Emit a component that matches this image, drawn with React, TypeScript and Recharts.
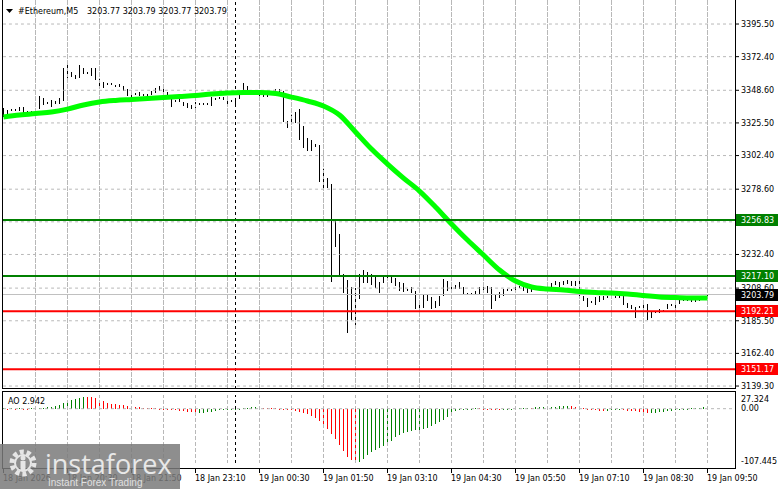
import React from 'react';
import { ComposedChart, Bar, Line, XAxis, YAxis, ReferenceLine } from 'recharts';

// ---------- DATA ----------
// M5 candles, 19:10 (18 Jan) .. 09:50 (19 Jan): [open, high, low, close]
const candles: [number, number, number, number][] = [
  [3334.6, 3336.0, 3329.7, 3331.1], [3332.5, 3334.6, 3331.8, 3333.9], [3334.6, 3335.3, 3333.9, 3334.3], [3334.3, 3335.3, 3333.9, 3334.6],
  [3335.3, 3336.8, 3333.9, 3335.0], [3336.0, 3336.8, 3332.5, 3333.2], [3333.2, 3333.9, 3332.5, 3333.0], [3333.0, 3333.9, 3332.5, 3333.2],
  [3333.2, 3333.9, 3331.8, 3332.5], [3336.8, 3344.5, 3335.3, 3343.8], [3342.4, 3343.1, 3338.2, 3338.9], [3339.6, 3340.3, 3338.9, 3339.3],
  [3340.3, 3341.7, 3336.8, 3338.2], [3340.3, 3341.0, 3338.9, 3339.6], [3339.6, 3343.1, 3338.9, 3342.4], [3341.7, 3364.4, 3341.0, 3362.9],
  [3360.8, 3366.5, 3357.3, 3358.7], [3360.8, 3361.5, 3358.0, 3360.1], [3358.0, 3359.4, 3356.6, 3358.3], [3358.0, 3366.5, 3357.3, 3365.8],
  [3363.7, 3364.4, 3360.1, 3360.8], [3360.8, 3361.5, 3360.1, 3360.5], [3359.4, 3364.4, 3358.7, 3363.7], [3363.7, 3364.4, 3355.9, 3356.6],
  [3355.9, 3356.6, 3351.6, 3352.3], [3353.7, 3354.4, 3350.2, 3350.9], [3353.1, 3353.7, 3352.3, 3352.8], [3352.8, 3353.7, 3352.3, 3353.1],
  [3351.6, 3352.3, 3350.9, 3351.3], [3351.9, 3353.0, 3351.0, 3352.3], [3350.9, 3351.6, 3348.1, 3348.8], [3348.8, 3349.5, 3344.5, 3345.3],
  [3346.7, 3347.4, 3343.8, 3344.5], [3346.0, 3346.7, 3345.3, 3345.7], [3346.7, 3347.4, 3344.5, 3345.3], [3345.3, 3346.0, 3344.5, 3345.0],
  [3345.0, 3346.0, 3344.5, 3345.3], [3346.0, 3348.1, 3345.3, 3347.4], [3347.4, 3350.2, 3346.7, 3349.5], [3348.8, 3351.6, 3348.1, 3350.9],
  [3348.1, 3350.9, 3347.4, 3350.2], [3346.7, 3347.4, 3343.8, 3344.5], [3341.7, 3342.4, 3336.8, 3341.4], [3341.0, 3341.7, 3340.3, 3340.7],
  [3341.4, 3342.4, 3340.3, 3341.7], [3339.6, 3340.3, 3337.5, 3338.2], [3338.9, 3339.6, 3336.0, 3336.8], [3337.5, 3338.2, 3335.3, 3336.0],
  [3336.8, 3340.3, 3336.0, 3339.6], [3338.9, 3339.6, 3338.2, 3338.6], [3338.6, 3339.6, 3338.2, 3338.9], [3338.9, 3339.6, 3338.2, 3339.2],
  [3338.2, 3343.8, 3337.5, 3343.1], [3342.4, 3343.1, 3341.7, 3342.7], [3342.7, 3343.8, 3342.4, 3343.1], [3343.1, 3343.8, 3341.7, 3342.4],
  [3342.4, 3343.1, 3336.8, 3338.9], [3341.0, 3341.7, 3340.3, 3340.7], [3338.2, 3343.1, 3337.5, 3342.4], [3343.1, 3346.0, 3342.4, 3345.3],
  [3348.8, 3353.7, 3348.1, 3352.3], [3350.9, 3351.6, 3347.4, 3348.1], [3347.4, 3348.1, 3346.7, 3347.1], [3346.7, 3347.4, 3346.0, 3346.4],
  [3346.7, 3347.4, 3344.5, 3345.3], [3346.7, 3347.4, 3343.8, 3344.5], [3346.4, 3347.1, 3343.8, 3344.5], [3347.1, 3348.1, 3346.7, 3347.4],
  [3347.4, 3349.5, 3346.7, 3348.8], [3348.8, 3349.5, 3346.7, 3347.4], [3347.4, 3348.1, 3326.1, 3329.0], [3326.1, 3326.8, 3321.9, 3324.0],
  [3327.6, 3331.1, 3324.7, 3327.3], [3326.1, 3333.2, 3325.4, 3332.5], [3334.6, 3335.3, 3313.4, 3322.6], [3322.6, 3323.3, 3307.8, 3308.5],
  [3309.2, 3314.8, 3305.6, 3308.9], [3308.9, 3313.4, 3305.6, 3309.2], [3309.6, 3310.6, 3308.5, 3309.9], [3309.2, 3310.0, 3283.7, 3292.2],
  [3292.2, 3292.9, 3278.0, 3281.6], [3283.0, 3286.5, 3279.4, 3282.6], [3281.6, 3282.3, 3212.9, 3255.4], [3256.8, 3257.5, 3237.7, 3239.1],
  [3246.2, 3247.0, 3217.2, 3217.9], [3217.9, 3218.6, 3205.1, 3214.3], [3213.6, 3214.3, 3176.8, 3201.6], [3201.6, 3209.4, 3186.0, 3203.0],
  [3202.3, 3208.7, 3182.5, 3201.6], [3201.6, 3218.6, 3200.9, 3217.9], [3215.7, 3221.4, 3212.2, 3219.3], [3218.6, 3220.0, 3212.2, 3218.3],
  [3217.9, 3218.6, 3210.8, 3216.5], [3215.7, 3216.5, 3208.7, 3209.4], [3209.4, 3212.9, 3205.1, 3212.2], [3216.5, 3217.2, 3212.2, 3212.9],
  [3214.3, 3220.0, 3213.6, 3217.9], [3215.7, 3216.5, 3212.2, 3212.9], [3215.0, 3215.7, 3210.1, 3210.8], [3212.2, 3212.9, 3206.5, 3207.3],
  [3211.5, 3212.2, 3205.8, 3206.5], [3207.3, 3208.0, 3206.5, 3207.0], [3208.7, 3209.4, 3205.1, 3205.8], [3205.8, 3206.5, 3193.8, 3194.5],
  [3194.5, 3197.3, 3193.8, 3196.6], [3195.2, 3204.4, 3194.5, 3203.7], [3203.7, 3204.4, 3199.5, 3200.2], [3201.6, 3202.3, 3193.8, 3194.5],
  [3195.2, 3199.5, 3194.5, 3198.8], [3196.6, 3203.0, 3195.9, 3202.3], [3203.7, 3215.0, 3203.0, 3214.3], [3212.9, 3213.6, 3206.5, 3207.3],
  [3208.7, 3209.4, 3208.0, 3208.4], [3209.4, 3210.8, 3208.0, 3209.1], [3212.2, 3212.9, 3208.0, 3208.7], [3208.7, 3209.4, 3204.4, 3205.1],
  [3204.4, 3205.1, 3203.7, 3204.1], [3204.1, 3205.1, 3203.7, 3204.4], [3205.8, 3206.5, 3203.7, 3204.4], [3205.1, 3209.4, 3204.4, 3208.7],
  [3205.8, 3209.4, 3205.1, 3208.7], [3205.8, 3210.1, 3205.1, 3208.7], [3208.7, 3209.4, 3193.8, 3194.5], [3200.2, 3203.7, 3199.5, 3203.0],
  [3202.3, 3205.8, 3201.6, 3205.1], [3203.7, 3208.0, 3203.0, 3207.3], [3207.3, 3208.0, 3206.5, 3207.0], [3207.0, 3208.0, 3206.5, 3207.3],
  [3207.3, 3210.1, 3206.5, 3209.4], [3209.4, 3210.1, 3208.7, 3209.1], [3209.4, 3210.1, 3206.5, 3207.3], [3208.0, 3208.7, 3205.1, 3205.8],
  [3207.3, 3208.7, 3205.8, 3207.0], [3207.7, 3208.7, 3207.3, 3208.0], [3208.0, 3208.7, 3207.3, 3207.7], [3208.4, 3209.4, 3208.0, 3208.7],
  [3208.7, 3211.5, 3208.0, 3210.8], [3210.8, 3212.2, 3209.4, 3210.5], [3212.2, 3213.6, 3210.8, 3212.0], [3212.2, 3212.9, 3209.4, 3210.1],
  [3212.9, 3213.6, 3210.8, 3211.5], [3212.9, 3214.3, 3211.5, 3212.6], [3212.9, 3213.6, 3210.1, 3210.8], [3212.9, 3213.6, 3210.1, 3210.8],
  [3214.3, 3215.0, 3200.9, 3201.6], [3202.3, 3203.0, 3199.5, 3200.2], [3199.5, 3201.6, 3195.2, 3199.2], [3198.8, 3199.5, 3198.0, 3198.5],
  [3201.6, 3202.3, 3196.6, 3197.3], [3199.5, 3203.0, 3198.8, 3202.3], [3200.9, 3203.0, 3200.2, 3202.3], [3202.3, 3203.0, 3201.6, 3202.0],
  [3202.0, 3203.0, 3201.6, 3202.3], [3202.3, 3203.0, 3201.6, 3202.0], [3202.0, 3203.0, 3201.6, 3202.3], [3202.3, 3203.0, 3196.6, 3197.3],
  [3197.3, 3198.0, 3194.5, 3195.2], [3195.9, 3196.6, 3193.8, 3194.5], [3194.5, 3195.2, 3187.4, 3194.2], [3195.2, 3195.9, 3194.5, 3194.9],
  [3196.6, 3197.3, 3192.4, 3193.1], [3196.6, 3197.3, 3186.0, 3187.4], [3188.1, 3192.4, 3187.4, 3191.7], [3191.7, 3192.4, 3191.0, 3191.4],
  [3192.4, 3193.8, 3191.0, 3192.1], [3192.1, 3193.1, 3191.7, 3192.4], [3194.5, 3197.3, 3193.8, 3196.6], [3196.6, 3197.3, 3195.9, 3196.3],
  [3195.2, 3198.8, 3194.5, 3198.0], [3198.0, 3200.9, 3197.3, 3200.2], [3200.2, 3200.9, 3199.5, 3199.9], [3199.9, 3200.9, 3199.5, 3200.2],
  [3199.5, 3200.2, 3198.8, 3199.2], [3199.2, 3200.2, 3198.8, 3199.5], [3200.2, 3200.9, 3199.5, 3200.5], [3202.0, 3202.7, 3201.6, 3202.3],
  [3203.77, 3203.79, 3203.77, 3203.79],
];

// Moving average, one value every 4 bars (bar 0, 4, 8, ... 176)
const maValues: number[] = [
  3329.7, 3331.1, 3332.2, 3333.2, 3335.3, 3338.2, 3340.3, 3341.4, 3342.1, 3342.8,
  3343.5, 3344.2, 3344.9, 3346.0, 3346.7, 3347.0, 3347.0, 3346.3, 3343.8, 3341.0,
  3337.5, 3331.1, 3319.1, 3307.0, 3296.4, 3286.5, 3277.3, 3266.0, 3254.0, 3242.6,
  3232.0, 3221.4, 3213.6, 3209.4, 3208.0, 3207.3, 3206.2, 3205.5, 3205.1, 3204.4,
  3203.4, 3202.3, 3201.9, 3201.6, 3201.6,
];
const maStep = 4;

// Awesome Oscillator, one value per bar
const aoValues: number[] = [
  0.6, 0.3, 0.5, 0.2, 0.4, 0.3, 0.1, 0.4, 0.8, 1.3, 1.9, 2.4,
  3.3, 5.3, 7.9, 11.2, 14.5, 17.2, 19.1, 21.8,
  23.5, 23.2, 22.5, 20.5, 18.0, 15.0, 12.0, 10.0, 8.5, 7.5, 6.5, 5.5, 4.5, 3.5, 2.5,
  1.5, 1.0, 0.7, 0.4, 0.2, 0.1,
  -1.5, -2.2, -3.0, -3.8, -5.0, -6.2, -7.5, -9.0,
  -8.6, -7.9, -7.2, -6.0, -4.6, -3.3, -2.0, -1.0, -0.5,
  -0.3, 0.2, 1.0, 2.0, 2.6, 3.0, 2.6, 2.0, 1.5, 1.0, 0.6, 0.3,
  -0.5, -1.2, -2.5, -4.0, -6.0, -8.5, -11, -14, -18, -24, -31, -40, -50, -61, -73, -84, -96, -103, -107.445,
  -106, -100, -93, -87, -82, -78, -75, -70,
  -64, -57.4, -52.8, -49.5, -46.9, -44.9, -42.9, -41.6, -40.3, -38.3, -35, -31, -26.4, -21.8, -16.5, -9.9, -4.6,
  -2.5, -1.2, -0.5, 0.3, 0.5, 0.4, 0.2, 0.1, -0.3, -0.5, -0.6, -0.4, -0.2, 0.3, 0.8, 1.2, 1.8, 2.2, 2.0, 2.5,
  3.0, 3.3, 3.6, 3.9, 4.3, 4.8, 5.2, 5.5, 5.0, 4.0, 2.5, 1.0, -0.5, -2.0, -3.0, -4.0, -4.5, -4.0, -3.6, -3.2,
  -3.0, -3.4, -4.0, -4.8, -5.5, -6.5, -7.5, -8.6, -8.3, -8.0, -7.3, -6.5, -5.3, -4.0, -2.6, -1.5, -0.6, 0.2,
  0.9, 1.5, 2.0, 2.5, 2.942,
];

const timeTicks = [0, 16, 32, 48, 64, 80, 96, 112, 128, 144, 160, 176];
const timeLabels = [
  '18 Jan 2026', '18 Jan 20:30', '18 Jan 21:50', '18 Jan 23:10', '19 Jan 00:30', '19 Jan 01:50',
  '19 Jan 03:10', '19 Jan 04:30', '19 Jan 05:50', '19 Jan 07:10', '19 Jan 08:30', '19 Jan 09:50',
];
const gridEvery = 8;
const gridBars = [8, 16, 24, 32, 40, 48, 56, 64, 72, 80, 88, 96, 104, 112, 120, 128, 136, 144, 152, 160, 168, 176];
const daySeparator = 58;
const priceTicks = [3395.5, 3372.4, 3348.6, 3325.5, 3302.4, 3278.6, 3255.5, 3232.4, 3208.6, 3185.5, 3162.4, 3139.3];
const priceDomain: [number, number] = [3137.2, 3412.5];
const barDomain: [number, number] = [-0.125, 182.875];
const greenLevels = [3256.83, 3217.1];
const redLevels = [3192.21, 3151.17];
const lastPrice = 3203.79;
const aoTicks = [27.324, 0, -107.445];
const aoDomain: [number, number] = [-107.445, 27.324];
const title = '#Ethereum,M5';
const titleQuote = '3203.77 3203.79 3203.77 3203.79';
const aoTitle = 'AO 2.942';

// ---------- BUILD ----------
const gridFields = (): Record<string, number> => {
  const g: Record<string, number> = { z0: 0 };
  priceTicks.forEach((p, k) => { g['g' + k] = p; });
  return g;
};
const barRows = candles.map(([o, h, l, c], i) => ({
  i, o, h, l, c,
  ma: i % maStep === 0 ? maValues[i / maStep] : null,
  ao: aoValues[i],
  aoUp: i === 0 || aoValues[i] >= aoValues[i - 1],
  ...gridFields(),
}));
// rows at both ends of the x domain only carry grid values, so the grid spans the whole panel
const data: any[] = [{ i: barDomain[0], ...gridFields() }, ...barRows, { i: barDomain[1], ...gridFields() }];

const FONT = "'DejaVu Sans', sans-serif";
const FS = 8;
const GREEN = '#008000';
const RED = '#ff0000';
const LIME = '#00ff00';
const GRID = '#b8b8b8';
const PRICE_LINE = '#c0c0c0';

const CandleShape = (props: any) => {
  const { x, y, width, height, payload, background } = props;
  if (x == null || !payload || payload.h == null) return null;
  const { o, h, l, c } = payload;
  const span = h - l;
  const ppu = span > 0 ? height / span : 0;
  const cx = x + width / 2;
  const yOf = (v: number) => y + (h - v) * ppu;
  const top = yOf(Math.max(o, c));
  const bot = yOf(Math.min(o, c));
  const bodyH = bot - top;
  const bull = c > o;
  return (
    <g shapeRendering="crispEdges">
      <line x1={cx} x2={cx} y1={y} y2={y + Math.max(height, 1)} stroke="#000" strokeWidth={1} />
      {bodyH < 1.2 ? (
        <line x1={x} x2={x + width} y1={top} y2={top} stroke="#000" strokeWidth={1} />
      ) : bull ? (
        <rect x={x + 0.5} y={top + 0.5} width={width - 1} height={bodyH - 1} fill="#fff" stroke="#000" strokeWidth={1} />
      ) : (
        <rect x={x} y={top} width={width} height={bodyH} fill="#000" />
      )}
    </g>
  );
};

// vertical grid line at every 8th bar, spanning the bar's full background band
const VGridShape = (props: any) => {
  const { x, width, payload, background } = props;
  if (x == null || !payload || payload.h == null) return null;
  if (payload.i === 0 || payload.i % gridEvery !== 0 || !background) return null;
  const cx = x + width / 2;
  return (
    <line x1={cx} x2={cx} y1={background.y} y2={background.y + background.height}
      stroke={GRID} strokeWidth={1} strokeDasharray="3 3" shapeRendering="crispEdges" />
  );
};

const AoShape = (props: any) => {
  const { x, y, height, payload } = props;
  if (x == null || !payload || payload.ao == null) return null;
  const top = Math.min(y, y + height);
  const h = Math.max(Math.abs(height), 1);
  return <rect x={x} y={top} width={1} height={h} fill={payload.aoUp ? GREEN : RED} shapeRendering="crispEdges" />;
};

const LevelLabel = (props: any) => {
  const { viewBox, text, bg } = props;
  if (!viewBox) return null;
  const x = viewBox.x + viewBox.width + 1;
  const y = viewBox.y;
  return (
    <g>
      <rect x={x} y={y - 6} width={42} height={12} fill={bg} shapeRendering="crispEdges" />
      <text x={x + 5} y={y} dy="0.35em" fontSize={FS} fontFamily={FONT} fill="#fff">{text}</text>
    </g>
  );
};

const TimeTick = (props: any) => {
  const { x, y, payload } = props;
  const idx = timeTicks.indexOf(payload.value);
  return (
    <g>
      <line x1={x} x2={x} y1={y + 6} y2={y + 10} stroke="#000" shapeRendering="crispEdges" />
      <text x={x - 0.5} y={y + 18.5} fontSize={FS} fontFamily={FONT} fill="#000">{timeLabels[idx]}</text>
    </g>
  );
};

const AoTick = (props: any) => {
  const { x, y, payload } = props;
  const v = payload.value;
  const label = v === 0 ? '0.00' : String(v);
  const dy = v > 0 ? 4 : v < 0 ? -1 : 0;
  return (
    <text x={x} y={y + dy} dy="0.35em" fontSize={FS} fontFamily={FONT} fill="#000">{label}</text>
  );
};

const candleRange = (d: any) => (d.h != null ? [d.l, d.h] : null);
const gridProps = { stroke: GRID, strokeWidth: 1, strokeDasharray: '3 3', shapeRendering: 'crispEdges' };
const MAIN_MARGIN = { top: 0, right: 0, bottom: 1, left: 3 };

export default function App() {
  return (
    <div style={{ position: 'absolute', left: 0, top: 0, width: 781, height: 489, background: '#fff', overflow: 'hidden' }}>
      {/* price panel */}
      <div style={{ position: 'absolute', left: 0, top: 0 }}>
        <ComposedChart width={781} height={390} data={data} margin={MAIN_MARGIN}>
          <XAxis type="number" dataKey="i" domain={barDomain} allowDataOverflow hide />
          <YAxis
            orientation="right"
            width={46}
            domain={priceDomain}
            allowDataOverflow
            ticks={priceTicks}
            interval={0}
            tickFormatter={(v: number) => v.toFixed(2)}
            tick={{ fontSize: FS, fontFamily: FONT, fill: '#000' }}
            tickLine={{ stroke: '#000' }}
            tickSize={4}
            tickMargin={2}
            axisLine={false}
          />
          {priceTicks.map((p, k) => (
            <Line key={'gl' + k} dataKey={'g' + k} type="linear" stroke={GRID} strokeWidth={1} strokeDasharray="3 3"
              dot={false} activeDot={false} isAnimationActive={false} />
          ))}
          {gridBars.map((b) => (
            <ReferenceLine key={'gx' + b} x={b} {...gridProps} />
          ))}
          <ReferenceLine y={lastPrice} stroke={PRICE_LINE} strokeWidth={1} shapeRendering="crispEdges" />
          <ReferenceLine x={daySeparator} stroke="#000" strokeDasharray="3 3" shapeRendering="crispEdges" />
          <Bar dataKey={candleRange} barSize={3} shape={<VGridShape />} isAnimationActive={false} />
          <Bar dataKey={candleRange} barSize={3} shape={<CandleShape />} isAnimationActive={false} />
          <Line dataKey="ma" type="monotone" stroke={LIME} strokeWidth={5} dot={false} activeDot={false} connectNulls isAnimationActive={false} />
        </ComposedChart>
      </div>
      {/* level lines and their price boxes, drawn above the price axis */}
      <div style={{ position: 'absolute', left: 0, top: 0 }}>
        <ComposedChart width={781} height={390} data={data} margin={MAIN_MARGIN}>
          <XAxis type="number" dataKey="i" domain={barDomain} allowDataOverflow hide />
          <YAxis orientation="right" width={46} domain={priceDomain} allowDataOverflow tick={false} tickLine={false} axisLine={false} />
          <ReferenceLine y={lastPrice} stroke="none" label={<LevelLabel text={lastPrice.toFixed(2)} bg="#000" />} />
          {greenLevels.map((v) => (
            <ReferenceLine key={v} y={v} stroke={GREEN} strokeWidth={2} label={<LevelLabel text={v.toFixed(2)} bg={GREEN} />} />
          ))}
          {redLevels.map((v) => (
            <ReferenceLine key={v} y={v} stroke={RED} strokeWidth={2} label={<LevelLabel text={v.toFixed(2)} bg={RED} />} />
          ))}
        </ComposedChart>
      </div>
      {/* AO panel */}
      <div style={{ position: 'absolute', left: 0, top: 391 }}>
        <ComposedChart width={781} height={98} data={data} margin={{ top: 4, right: 0, bottom: 0, left: 3 }}>
          <XAxis
            type="number"
            dataKey="i"
            domain={barDomain}
            allowDataOverflow
            ticks={timeTicks}
            interval={0}
            height={26.5}
            tickSize={0}
            tickMargin={0}
            axisLine={false}
            tickLine={false}
            tick={<TimeTick />}
          />
          <YAxis
            orientation="right"
            width={46}
            domain={aoDomain}
            allowDataOverflow
            ticks={aoTicks}
            interval={0}
            tickSize={4}
            tickMargin={2}
            tickLine={false}
            axisLine={false}
            tick={<AoTick />}
          />
          <Line dataKey="z0" type="linear" stroke={GRID} strokeWidth={1} strokeDasharray="3 3" dot={false} activeDot={false} isAnimationActive={false} />
          {gridBars.map((b) => (
            <ReferenceLine key={'ax' + b} x={b} {...gridProps} />
          ))}
          <ReferenceLine x={daySeparator} stroke="#000" strokeDasharray="3 3" shapeRendering="crispEdges" />
          <Bar dataKey={candleRange} barSize={3} shape={<VGridShape />} isAnimationActive={false} />
          <Bar dataKey="ao" barSize={1} shape={<AoShape />} isAnimationActive={false} />
        </ComposedChart>
      </div>
      <svg width={781} height={489} style={{ position: 'absolute', left: 0, top: 0, pointerEvents: 'none' }}>
        <g shapeRendering="crispEdges" stroke="#000" strokeWidth={1} fill="none">
          <line x1={2.5} x2={2.5} y1={0} y2={388.5} />
          <line x1={735.5} x2={735.5} y1={0} y2={388.5} />
          <line x1={2.5} x2={735.5} y1={388.5} y2={388.5} />
          <rect x={2.5} y={391.5} width={733} height={77} />
        </g>
        <polygon points="6,9 13,9 9.5,13" fill="#000" />
        <text x={18} y={13.5} fontSize={FS} fontFamily={FONT} fill="#000">{title}</text>
        <text x={87} y={13.5} fontSize={FS} fontFamily={FONT} fill="#000">{titleQuote}</text>
        <text x={8} y={404} fontSize={FS} fontFamily={FONT} fill="#000">{aoTitle}</text>
        <g>
          <rect x={0} y={444} width={180} height={45} fill="#7a7a7a" opacity={0.85} />
          <circle cx={23} cy={463} r={11} fill="none" stroke="#e6e6e6" strokeWidth={5} strokeDasharray="4 2.9" />
          <circle cx={23} cy={463} r={8} fill="none" stroke="#e6e6e6" strokeWidth={2} />
          <circle cx={23} cy={458} r={2.5} fill="#e6e6e6" />
          <rect x={20.5} y={461} width={5} height={9} fill="#e6e6e6" />
          <text x={45} y={474} fontSize={27} fontFamily="'Open Sans', 'DejaVu Sans', sans-serif" fill="#e8e8e8">instaforex</text>
          <text x={48} y={486} fontSize={10} fontFamily="'Liberation Sans', sans-serif" fill="#e0e0e0">Instant Forex Trading</text>
        </g>
      </svg>
    </div>
  );
}
